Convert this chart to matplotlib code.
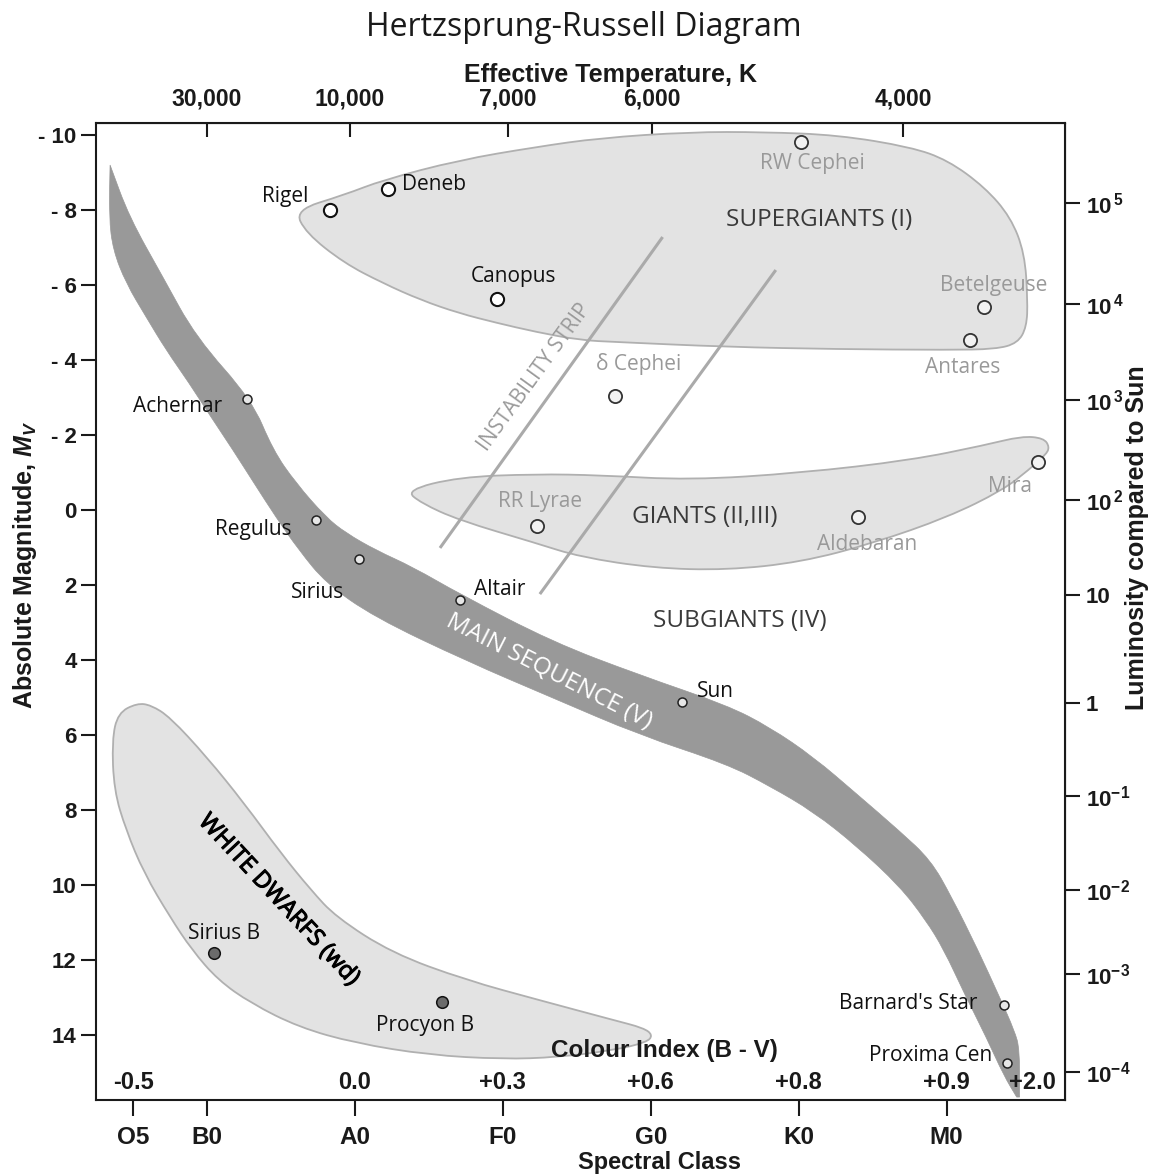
import matplotlib.pyplot as plt
from matplotlib.patches import PathPatch
from matplotlib.path import Path
import matplotlib.patheffects as pe

# x is a spectral-class position (O5=0, B0=1, A0=3, F0=5, G0=7, K0=9, M0=11), y is M_V
spectral_classes = ['O5', 'B0', 'A0', 'F0', 'G0', 'K0', 'M0']
spectral_pos = [0, 1, 3, 5, 7, 9, 11]

colour_index = ['-0.5', '0.0', '+0.3', '+0.6', '+0.8', '+0.9', '+2.0']
colour_pos = [0, 3, 5, 7, 9, 11, 12.16]
colour_row_mag = 15.25

temp_labels = ['30,000', '10,000', '7,000', '6,000', '4,000']
temp_pos = [1.0, 2.93, 5.07, 7.01, 10.41]

mag_ticks = [-10, -8, -6, -4, -2, 0, 2, 4, 6, 8, 10, 12, 14]
mag_labels = ['- 10', '- 8', '- 6', '- 4', '- 2', '0', '2', '4', '6', '8', '10', '12', '14']

lum_labels = [r'$10^{\,5}$', r'$10^{\,4}$', r'$10^{\,3}$', r'$10^{\,2}$', '10', '1',
              r'$10^{-1}$', r'$10^{-2}$', r'$10^{-3}$', r'$10^{-4}$']
lum_pos = [-8.19, -5.49, -2.93, -0.27, 2.27, 5.15, 7.63, 10.12, 12.37, 14.99]

star_names = ['Rigel', 'Deneb', 'Canopus', 'RW Cephei', 'Betelgeuse', 'Antares',
              'δ Cephei', 'Achernar', 'Regulus', 'Sirius', 'Altair', 'RR Lyrae',
              'Mira', 'Aldebaran', 'Sun', 'Sirius B', 'Procyon B',
              "Barnard's Star", 'Proxima Cen']
star_x = [2.66, 3.45, 4.92, 9.03, 11.5, 11.31, 6.51, 1.54, 2.47, 3.05, 4.42, 5.46,
          12.23, 9.8, 7.42, 1.09, 4.18, 11.77, 11.81]
star_mag = [-8.0, -8.56, -5.63, -9.81, -5.41, -4.53, -3.04, -2.96, 0.27, 1.31, 2.4,
            0.43, -1.28, 0.19, 5.12, 11.81, 13.12, 13.2, 14.75]
star_kind = ['bright', 'bright', 'bright', 'variable', 'variable', 'variable', 'variable',
             'main', 'main', 'main', 'main', 'variable', 'variable', 'variable', 'main',
             'dwarf', 'dwarf', 'main', 'main']
label_x = [2.37, 3.64, 5.14, 9.19, 11.64, 11.22, 6.84, 1.2, 2.14, 2.49, 4.61, 5.5,
           11.86, 9.92, 7.62, 1.23, 3.95, 11.42, 11.62]
label_mag = [-8.37, -8.67, -6.24, -9.25, -6.0, -3.81, -3.89, -2.75, 0.51, 2.21, 2.13,
             -0.24, -0.64, 0.93, 4.85, 11.28, 13.73, 13.15, 14.53]
label_ha = ['right', 'left', 'center', 'center', 'center', 'center', 'center', 'right',
            'right', 'center', 'left', 'center', 'center', 'center', 'left', 'center',
            'center', 'right', 'right']

# main sequence band, upper/right edge then lower/left edge
ms_upper_x = [-0.31, -0.05, 0.405, 0.851, 1.608, 1.892, 2.203, 2.608, 2.878, 3.284,
              3.784, 4.419, 5.676, 6.851, 8.027, 8.608, 9.203, 9.784, 10.365, 10.784,
              11.068, 11.419, 11.716, 11.919, 11.986, 11.986]
ms_upper_mag = [-9.2, -7.81, -6.21, -4.61, -2.93, -1.6, -0.72, 0.19, 0.61, 1.07,
                1.52, 2.24, 3.52, 4.4, 5.2, 5.79, 6.59, 7.57, 8.56, 9.33,
                10.32, 11.71, 12.99, 13.89, 14.37, 15.65]
ms_lower_x = [-0.31, -0.324, -0.27, -0.095, 0.176, 0.446, 0.757, 1.054, 1.351, 1.635,
              1.932, 2.243, 2.608, 3.257, 4.514, 5.676, 6.851, 8.027, 8.608, 9.203,
              9.784, 10.365, 10.716, 10.959, 11.243, 11.541, 11.77, 11.946]
ms_lower_mag = [-9.2, -7.81, -6.93, -6.05, -5.15, -4.27, -3.39, -2.48, -1.6, -0.72,
                0.19, 1.07, 1.95, 2.85, 4.03, 5.01, 6.0, 6.77, 7.36, 8.05,
                8.96, 10.03, 10.93, 11.71, 12.91, 14.08, 15.07, 15.65]

supergiant_x = [2.189, 2.851, 3.378, 4.405, 5.446, 6.311, 7.527, 8.527, 9.527, 10.514,
                11.014, 11.514, 11.865, 12.054, 12.095, 12.081, 11.959, 11.662, 11.014,
                9.527, 8.027, 6.541, 6.041, 5.446, 4.919, 4.405, 3.892, 3.378, 2.851, 2.338]
supergiant_mag = [-8.0, -8.4, -8.8, -9.33, -9.68, -9.92, -10.08, -10.08, -10.0, -9.68,
                  -9.33, -8.61, -7.81, -6.85, -5.6, -4.88, -4.45, -4.29, -4.27,
                  -4.29, -4.35, -4.48, -4.53, -4.75, -4.99, -5.25, -5.6, -6.05, -6.59, -7.39]

giant_x = [3.689, 4.405, 5.446, 6.311, 7.527, 9.027, 10.514, 11.514, 12.014, 12.311,
           12.392, 12.338, 12.108, 11.757, 11.014, 10.014, 9.027, 8.027, 7.041, 6.041,
           5.446, 4.405, 3.892]
giant_mag = [-0.53, -0.88, -0.96, -0.93, -0.8, -0.99, -1.33, -1.73, -1.97, -1.92,
             -1.68, -1.47, -1.07, -0.53, 0.19, 0.88, 1.39, 1.6, 1.55, 1.25,
             0.88, 0.27, -0.19]

dwarf_x = [0.054, -0.203, -0.284, -0.257, -0.095, 0.149, 0.5, 0.797, 1.149, 1.595,
           2.243, 3.0, 4.0, 5.0, 5.743, 6.5, 6.946, 7.027, 6.905, 6.5, 5.5, 4.5, 3.5,
           2.743, 2.405, 2.0, 1.5, 1.0, 0.5, 0.243]
dwarf_mag = [5.15, 5.41, 6.13, 7.47, 8.53, 9.68, 10.85, 11.73, 12.53, 13.15,
             13.79, 14.21, 14.53, 14.64, 14.59, 14.4, 14.19, 14.0, 13.81, 13.6, 13.07,
             12.53, 11.81, 10.85, 10.13, 9.15, 7.81, 6.59, 5.52, 5.2]

# instability strip edges: (x0, x1), (mag0, mag1)
strip_x = [(4.15, 7.16), (5.5, 8.69)]
strip_mag = [(1.01, -7.28), (2.24, -6.4)]

region_labels = ['SUPERGIANTS (I)', 'GIANTS (II,III)', 'SUBGIANTS (IV)']
region_label_x = [9.28, 7.73, 8.2]
region_label_mag = [-7.73, 0.19, 2.96]


def mid(a, b):
    return ((a[0] + b[0]) / 2, (a[1] + b[1]) / 2)


def loop_path(xs, ys):
    # closed outline, traced point-to-point with quadratic corners
    p = list(zip(xs, ys))
    n = len(p)
    m = [mid(p[i], p[(i + 1) % n]) for i in range(n)]
    verts, codes = [m[-1]], [Path.MOVETO]
    for i in range(n):
        verts += [p[i], m[i]]
        codes += [Path.CURVE3, Path.CURVE3]
    verts.append(m[-1])
    codes.append(Path.CLOSEPOLY)
    return Path(verts, codes)


def chain(p):
    verts, codes = [mid(p[0], p[1])], [Path.LINETO]
    for i in range(1, len(p) - 1):
        verts += [p[i], mid(p[i], p[i + 1])]
        codes += [Path.CURVE3, Path.CURVE3]
    verts.append(p[-1])
    codes.append(Path.LINETO)
    return verts, codes


def band_path(ux, uy, lx, ly):
    up = list(zip(ux, uy))
    lo = list(zip(lx, ly))[::-1]
    v1, c1 = chain(up)
    v2, c2 = chain(lo)
    verts = [up[0]] + v1 + [lo[0]] + v2 + [up[0]]
    codes = [Path.MOVETO] + c1 + [Path.LINETO] + c2 + [Path.CLOSEPOLY]
    return Path(verts, codes)


plt.rcParams['mathtext.fontset'] = 'custom'
plt.rcParams['mathtext.rm'] = 'Liberation Sans:bold'
plt.rcParams['mathtext.it'] = 'Liberation Sans:italic:bold'
plt.rcParams['mathtext.bf'] = 'Liberation Sans:bold'

BOLD = ['Liberation Sans', 'DejaVu Sans']
REG = ['Open Sans', 'DejaVu Sans']
INK = '#1a1a1a'

fig = plt.figure(figsize=(11.57, 11.76), dpi=100)
ax = fig.add_axes([0.083, 0.0646, 0.8375, 0.8308])
ax.set_xlim(-0.5, 12.6)
ax.set_ylim(15.73, -10.32)

for s in ax.spines.values():
    s.set_linewidth(1.5)
    s.set_color(INK)

# regions
region_fill = '#e3e3e3'
region_edge = '#b0b0b0'
for xs, ms in [(supergiant_x, supergiant_mag), (giant_x, giant_mag), (dwarf_x, dwarf_mag)]:
    ax.add_patch(PathPatch(loop_path(xs, ms), facecolor=region_fill,
                           edgecolor=region_edge, linewidth=1.3, zorder=1))

ax.add_patch(PathPatch(band_path(ms_upper_x, ms_upper_mag, ms_lower_x, ms_lower_mag),
                       facecolor='#999999', edgecolor='#999999', linewidth=0.5, zorder=2))

for xs, ms in zip(strip_x, strip_mag):
    ax.plot(xs, ms, color='#aaaaaa', lw=2.2, solid_capstyle='butt', zorder=2)

# stars
kind_style = {
    'bright':   dict(s=90, facecolor='white', edgecolor='#111111', linewidths=1.5),
    'variable': dict(s=90, facecolor='#f2f2f2', edgecolor='#333333', linewidths=1.3),
    'main':     dict(s=42, facecolor='#e6e6e6', edgecolor='#222222', linewidths=1.1),
    'dwarf':    dict(s=70, facecolor='#6b6b6b', edgecolor='#111111', linewidths=1.1),
}
for kind, st in kind_style.items():
    idx = [i for i, k in enumerate(star_kind) if k == kind]
    ax.scatter([star_x[i] for i in idx], [star_mag[i] for i in idx], zorder=5, **st)

for i, name in enumerate(star_names):
    col = '#999999' if star_kind[i] == 'variable' else '#111111'
    ax.text(label_x[i], label_mag[i], name, ha=label_ha[i], va='center', fontsize=15,
            family=REG, color=col, zorder=6)

for name, x, m in zip(region_labels, region_label_x, region_label_mag):
    ax.text(x, m, name, ha='center', va='center', fontsize=17.5, family=REG,
            color='#3a3a3a', zorder=6)

ax.text(5.62, 4.3, 'MAIN SEQUENCE (V)', ha='center', va='center', rotation=-27,
        rotation_mode='anchor', fontsize=17.5, family=REG, color='white', zorder=6)
ax.text(5.43, -3.55, 'INSTABILITY STRIP', ha='center', va='center', rotation=54,
        rotation_mode='anchor', fontsize=15, family=REG, color='#9a9a9a', zorder=6)
ax.text(1.97, 10.4, 'WHITE DWARFS (wd)', ha='center', va='center', rotation=-47,
        rotation_mode='anchor', fontsize=17, family=REG, color='black', zorder=6,
        path_effects=[pe.withStroke(linewidth=0.8, foreground='black')])
ax.text(7.18, 14.4, 'Colour Index (B - V)', ha='center', va='center', fontsize=17.5,
        family=BOLD, fontweight='bold', color=INK, zorder=6)
for lab, x in zip(colour_index, colour_pos):
    ax.text(x, colour_row_mag, lab, ha='center', va='center', fontsize=17,
            family=BOLD, fontweight='bold', color=INK, zorder=6)

# axes ticks
ax.set_xticks(spectral_pos, spectral_classes)
ax.set_yticks(mag_ticks, mag_labels)
ax.tick_params(axis='x', direction='out', length=11.5, width=1.5, pad=7, colors=INK,
               top=False)
ax.tick_params(axis='y', direction='out', length=11, width=1.5, pad=3, colors=INK,
               right=False)
for t in ax.get_xticklabels():
    t.set_fontfamily(BOLD); t.set_fontweight('bold'); t.set_fontsize(17.5)
for t in ax.get_yticklabels():
    t.set_fontfamily(BOLD); t.set_fontweight('bold'); t.set_fontsize(16)

top = ax.secondary_xaxis('top')
top.set_xticks(temp_pos, temp_labels)
top.tick_params(direction='in', length=10, width=1.5, pad=9, colors=INK)
for t in top.get_xticklabels():
    t.set_fontfamily(BOLD); t.set_fontweight('bold'); t.set_fontsize(16.5)

right = ax.secondary_yaxis('right')
right.set_yticks(lum_pos, lum_labels)
right.tick_params(direction='out', length=11, width=1.5, pad=4, colors=INK)
for t in right.get_yticklabels():
    t.set_fontfamily(BOLD); t.set_fontweight('bold'); t.set_fontsize(16)

# titles and axis names
fig.text(584 / 1157, 1 - 27 / 1176, 'Hertzsprung-Russell Diagram', ha='center',
         va='center', fontsize=23, family=REG, color=INK)
fig.text(611 / 1157, 1 - 75 / 1176, 'Effective Temperature, K', ha='center',
         va='center', fontsize=18, family=BOLD, fontweight='bold', color=INK)
fig.text(660 / 1157, 1 - 1162 / 1176, 'Spectral Class', ha='center', va='center',
         fontsize=17, family=BOLD, fontweight='bold', color=INK)
fig.text(25 / 1157, 1 - 565 / 1176, r'Absolute Magnitude, $M_V$', ha='center',
         va='center', rotation=90, fontsize=18, family=BOLD, fontweight='bold', color=INK)
fig.text(1137 / 1157, 1 - 538 / 1176, 'Luminosity compared to Sun', ha='center',
         va='center', rotation=90, fontsize=18, family=BOLD, fontweight='bold', color=INK)

fig.savefig('out.png', dpi=100, facecolor='white')
